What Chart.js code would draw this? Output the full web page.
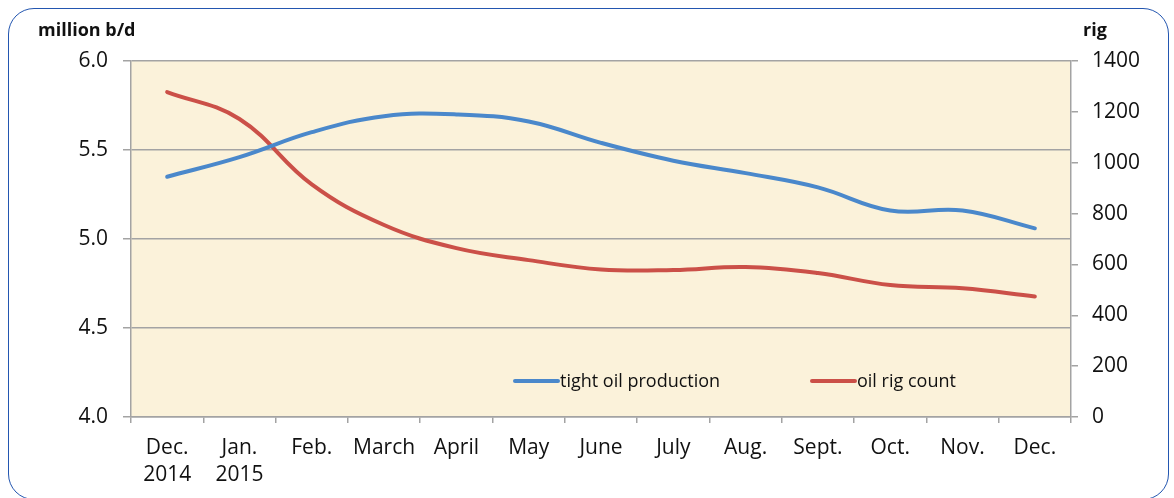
<!DOCTYPE html>
<html>
<head>
<meta charset="utf-8">
<script src="https://cdn.jsdelivr.net/npm/chart.js@4.4.1/dist/chart.umd.min.js"></script>
<style>
  html, body { margin: 0; padding: 0; background: #fff; }
  body { width: 1174px; height: 498px; position: relative; overflow: hidden; }
  .frame {
    position: absolute; left: 8px; top: 8px; width: 1161px; height: 492px;
    border: 1.5px solid #2356b0; border-radius: 26px; box-sizing: border-box;
  }
  #wrap { position: absolute; left: 0; top: 0; width: 1174px; height: 498px; }
</style>
</head>
<body>
<div class="frame"></div>
<div id="wrap"><canvas id="oilChart" width="1174" height="498"></canvas></div>
<script>
// Data
const months = [['Dec.', '2014'], ['Jan.', '2015'], 'Feb.', 'March', 'April', 'May', 'June', 'July', 'Aug.', 'Sept.', 'Oct.', 'Nov.', 'Dec.'];
const tightOil = [5.35, 5.46, 5.60, 5.69, 5.70, 5.66, 5.54, 5.44, 5.37, 5.29, 5.16, 5.16, 5.06];
const rigCount = [1278, 1172, 915, 755, 664, 617, 580, 578, 590, 566, 519, 506, 474];
const leftTicks = [4.0, 4.5, 5.0, 5.5, 6.0];
const rightTicks = [0, 200, 400, 600, 800, 1000, 1200, 1400];

const FONT = '"Open Sans", Lato, sans-serif';
const gridGray = '#a3a3a3';
const blue = '#4a88cb';
const red = '#cb5048';

// cream plot background + axis titles + in-plot legend
const decor = {
    id: 'decor',
    beforeDraw(chart) {
        const a = chart.chartArea, ctx = chart.ctx;
        ctx.save();
        ctx.fillStyle = '#fbf2da';
        ctx.fillRect(a.left, a.top, a.right - a.left, a.bottom - a.top);
        ctx.restore();
    },
    afterDraw(chart) {
        const ctx = chart.ctx;
        ctx.save();
        ctx.fillStyle = '#111';
        ctx.font = 'bold 18px ' + FONT;
        ctx.textBaseline = 'middle';
        ctx.textAlign = 'left';
        ctx.fillText('million b/d', 38, 31);
        ctx.fillText('rig', 1083, 31);

        // legend inside plot
        const items = [
            { ds: chart.data.datasets[0], x: 515 },
            { ds: chart.data.datasets[1], x: 812 }
        ];
        const y = 381;
        ctx.font = '18px ' + FONT;
        items.forEach(it => {
            ctx.strokeStyle = it.ds.borderColor;
            ctx.lineWidth = 4;
            ctx.lineCap = 'round';
            ctx.beginPath();
            ctx.moveTo(it.x, y);
            ctx.lineTo(it.x + 43, y);
            ctx.stroke();
            ctx.fillStyle = '#111';
            ctx.fillText(it.ds.label, it.x + 45, y + 1);
        });
        ctx.restore();
    }
};

new Chart(document.getElementById('oilChart'), {
    type: 'line',
    data: {
        labels: months,
        datasets: [
            { label: 'tight oil production', data: tightOil, yAxisID: 'y',
              borderColor: blue, borderWidth: 4, tension: 0.4, pointRadius: 0,
              borderCapStyle: 'round', fill: false },
            { label: 'oil rig count', data: rigCount, yAxisID: 'y1',
              borderColor: red, borderWidth: 4, tension: 0.4, pointRadius: 0,
              borderCapStyle: 'round', fill: false }
        ]
    },
    options: {
        responsive: false,
        animation: false,
        layout: { padding: { top: 61, bottom: 0, left: 0, right: 0 } },
        plugins: { legend: { display: false }, tooltip: { enabled: false } },
        scales: {
            x: {
                offset: true,
                grid: { display: true, offset: true, drawOnChartArea: false, color: gridGray,
                        lineWidth: 1.5, tickLength: 6 },
                border: { color: gridGray, width: 1.5 },
                ticks: { color: '#111', font: { family: FONT, size: 21, lineHeight: 1.3 }, padding: 11,
                         maxRotation: 0, autoSkip: false },
                afterFit(scale) { scale.height = 81; }
            },
            y: {
                position: 'left', min: 4, max: 6,
                afterBuildTicks(scale) { scale.ticks = leftTicks.map(v => ({ value: v })); },
                grid: { color: gridGray, lineWidth: 1.5, tickLength: 8 },
                border: { color: gridGray, width: 1.5 },
                ticks: { color: '#111', font: { family: FONT, size: 21 }, padding: 15,
                         callback: v => v.toFixed(1) },
                afterFit(scale) { scale.width = 131; }
            },
            y1: {
                position: 'right', min: 0, max: 1400,
                afterBuildTicks(scale) { scale.ticks = rightTicks.map(v => ({ value: v })); },
                grid: { drawOnChartArea: false, color: gridGray, lineWidth: 1.5, tickLength: 7 },
                border: { color: gridGray, width: 1.5 },
                ticks: { color: '#111', font: { family: FONT, size: 21 }, padding: 14,
                         callback: v => String(v) },
                afterFit(scale) { scale.width = 103; }
            }
        }
    },
    plugins: [decor]
});
</script>
</body>
</html>
